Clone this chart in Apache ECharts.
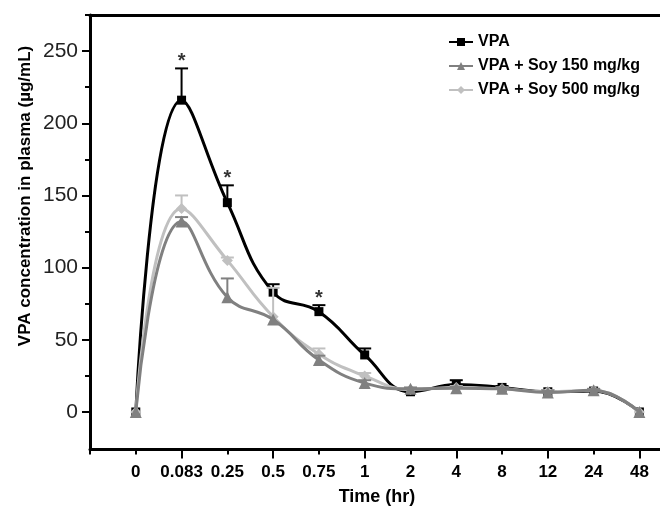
<!DOCTYPE html>
<html><head><meta charset="utf-8">
<script src="https://cdn.jsdelivr.net/npm/echarts@6/dist/echarts.min.js"></script>
<style>html,body{margin:0;padding:0;background:#fff}#c{width:660px;height:506px}</style>
</head><body><div id="c"></div>
<script>
// ---- data ----
const categories = ['0','0.083','0.25','0.5','0.75','1','2','4','8','12','24','48'];
const vpa       = [0, 216, 145, 83, 69.5, 39.5, 14, 19, 17, 14, 14.5, 0];
const vpaErr    = [0, 22, 12, 5.5, 4.5, 4.5, 1, 3, 1, 1, 1, 0];
const soy150    = [0, 132, 79.5, 64, 36, 20, 16, 16.5, 16, 13.5, 15, 0];
const soy150Err = [0, 3, 13, 0, 3, 2, 1, 1, 1, 1, 1, 0];
const soy500    = [0, 141, 105, 66, 40, 25, 15.5, 17, 16, 14, 15, 0];
const soy500Err = [0, 9, 2, 20, 4, 2, 1, 1, 1, 1, 1, 0];
const starCategories = ['0.083', '0.25', '0.75'];
const yMajorTicks = [0, 50, 100, 150, 200, 250];
const yMinorTicks = [25, 75, 125, 175, 225, 275];
const seriesNames = ['VPA', 'VPA + Soy 150 mg/kg', 'VPA + Soy 500 mg/kg'];

const FONT = '"Liberation Sans", Arial, sans-serif';
const chart = echarts.init(document.getElementById('c'), null, {renderer: 'canvas'});
const idx = categories.map((_, i) => i);
const pts = vals => vals.map((v, i) => [i, v]);

function errSeries(vals, errs, color, z) {
  return {
    type: 'custom', z: z, silent: true,
    data: vals.map((v, i) => [i, v, errs[i]]).filter(d => d[2] > 0),
    encode: {x: 0, y: 1},
    renderItem: function (params, api) {
      const i = api.value(0), v = api.value(1), e = api.value(2);
      const a = api.coord([i, v]), b = api.coord([i, v + e]);
      return {type: 'group', children: [
        {type: 'line', shape: {x1: a[0], y1: a[1], x2: b[0], y2: b[1]}, style: {stroke: color, lineWidth: 2}},
        {type: 'line', shape: {x1: b[0] - 6.5, y1: b[1], x2: b[0] + 6.5, y2: b[1]}, style: {stroke: color, lineWidth: 2}}
      ]};
    }
  };
}

const XMIN = -1, XMAX = 11.45, YMIN = -26, YMAX = 275;
const axisLineStyle = {color: '#000', width: 3};

const option = {
  animation: false,
  backgroundColor: '#fff',
  grid: {left: 90, right: 0, top: 15, bottom: 56.5, containLabel: false},
  legend: {
    orient: 'vertical', left: 443, top: 29, itemGap: 8, itemWidth: 24, itemHeight: 10,
    data: seriesNames,
    textStyle: {fontFamily: FONT, fontSize: 16, fontWeight: 'bold', color: '#000'}
  },
  xAxis: [
    {type: 'value', min: XMIN, max: XMAX, position: 'bottom',
     axisLine: {show: true, onZero: false, lineStyle: axisLineStyle},
     axisTick: {show: true, customValues: [1, 3, 5, 7, 9, 11], length: 9, lineStyle: {color: '#000', width: 2}},
     axisLabel: {customValues: idx, formatter: v => categories[Math.round(v)], fontFamily: FONT,
                 fontSize: 17, fontWeight: 'bold', color: '#000', margin: 14},
     splitLine: {show: false}},
    {type: 'value', min: XMIN, max: XMAX, position: 'bottom',
     axisLine: {show: false, onZero: false},
     axisTick: {show: true, customValues: [-1, 0, 2, 4, 6, 8, 10], length: 5, lineStyle: {color: '#000', width: 2}},
     axisLabel: {show: false}, splitLine: {show: false}},
    {type: 'value', min: XMIN, max: XMAX, position: 'top',
     axisLine: {show: true, onZero: false, lineStyle: axisLineStyle},
     axisTick: {show: false}, axisLabel: {show: false}, splitLine: {show: false}}
  ],
  yAxis: [
    {type: 'value', min: YMIN, max: YMAX, position: 'left',
     axisLine: {show: true, onZero: false, lineStyle: axisLineStyle},
     axisTick: {show: true, customValues: yMajorTicks, length: 8, lineStyle: {color: '#000', width: 2}},
     axisLabel: {customValues: yMajorTicks, fontFamily: FONT, fontSize: 21, color: '#222', margin: 12},
     splitLine: {show: false}},
    {type: 'value', min: YMIN, max: YMAX, position: 'left',
     axisLine: {show: false, onZero: false},
     axisTick: {show: true, customValues: yMinorTicks, length: 5, lineStyle: {color: '#000', width: 2}},
     axisLabel: {show: false}, splitLine: {show: false}}
  ],
  graphic: [{
    type: 'text', x: 25, y: 196, rotation: Math.PI / 2,
    style: {text: 'VPA concentration in plasma (µg/mL)', fontFamily: FONT, fontSize: 17, fontWeight: 'bold',
            fill: '#000', align: 'center', verticalAlign: 'middle'}
  }, {
    type: 'text', x: 377, y: 497,
    style: {text: 'Time (hr)', fontFamily: FONT, fontSize: 18, fontWeight: 'bold',
            fill: '#000', align: 'center', verticalAlign: 'middle'}
  }],
  series: [
    errSeries(vpa, vpaErr, '#000', 2),
    errSeries(soy500, soy500Err, '#c0c0c0', 3),
    errSeries(soy150, soy150Err, '#808080', 4),
    {name: seriesNames[0], type: 'line', data: pts(vpa), smooth: 0.45, z: 2,
     symbol: 'rect', symbolSize: 9, showAllSymbol: true,
     lineStyle: {color: '#000', width: 3}, itemStyle: {color: '#000'}},
    {name: seriesNames[2], type: 'line', data: pts(soy500), smooth: 0.45, z: 3,
     symbol: 'diamond', symbolSize: 11, showAllSymbol: true,
     lineStyle: {color: '#c0c0c0', width: 3}, itemStyle: {color: '#c0c0c0'}},
    {name: seriesNames[1], type: 'line', data: pts(soy150), smooth: 0.45, z: 4,
     symbol: 'triangle', symbolSize: 12, showAllSymbol: true,
     lineStyle: {color: '#808080', width: 3}, itemStyle: {color: '#808080'}},
    {type: 'scatter', z: 5, silent: true, symbolSize: 1, itemStyle: {color: 'rgba(0,0,0,0)'},
     data: starCategories.map(c => { const i = categories.indexOf(c); return [i, vpa[i] + vpaErr[i]]; }),
     label: {show: true, formatter: '*', position: 'top', distance: -4, fontFamily: FONT,
             fontSize: 20, fontWeight: 'bold', color: '#000'}}
  ]
};
chart.setOption(option);
</script>
</body></html>
